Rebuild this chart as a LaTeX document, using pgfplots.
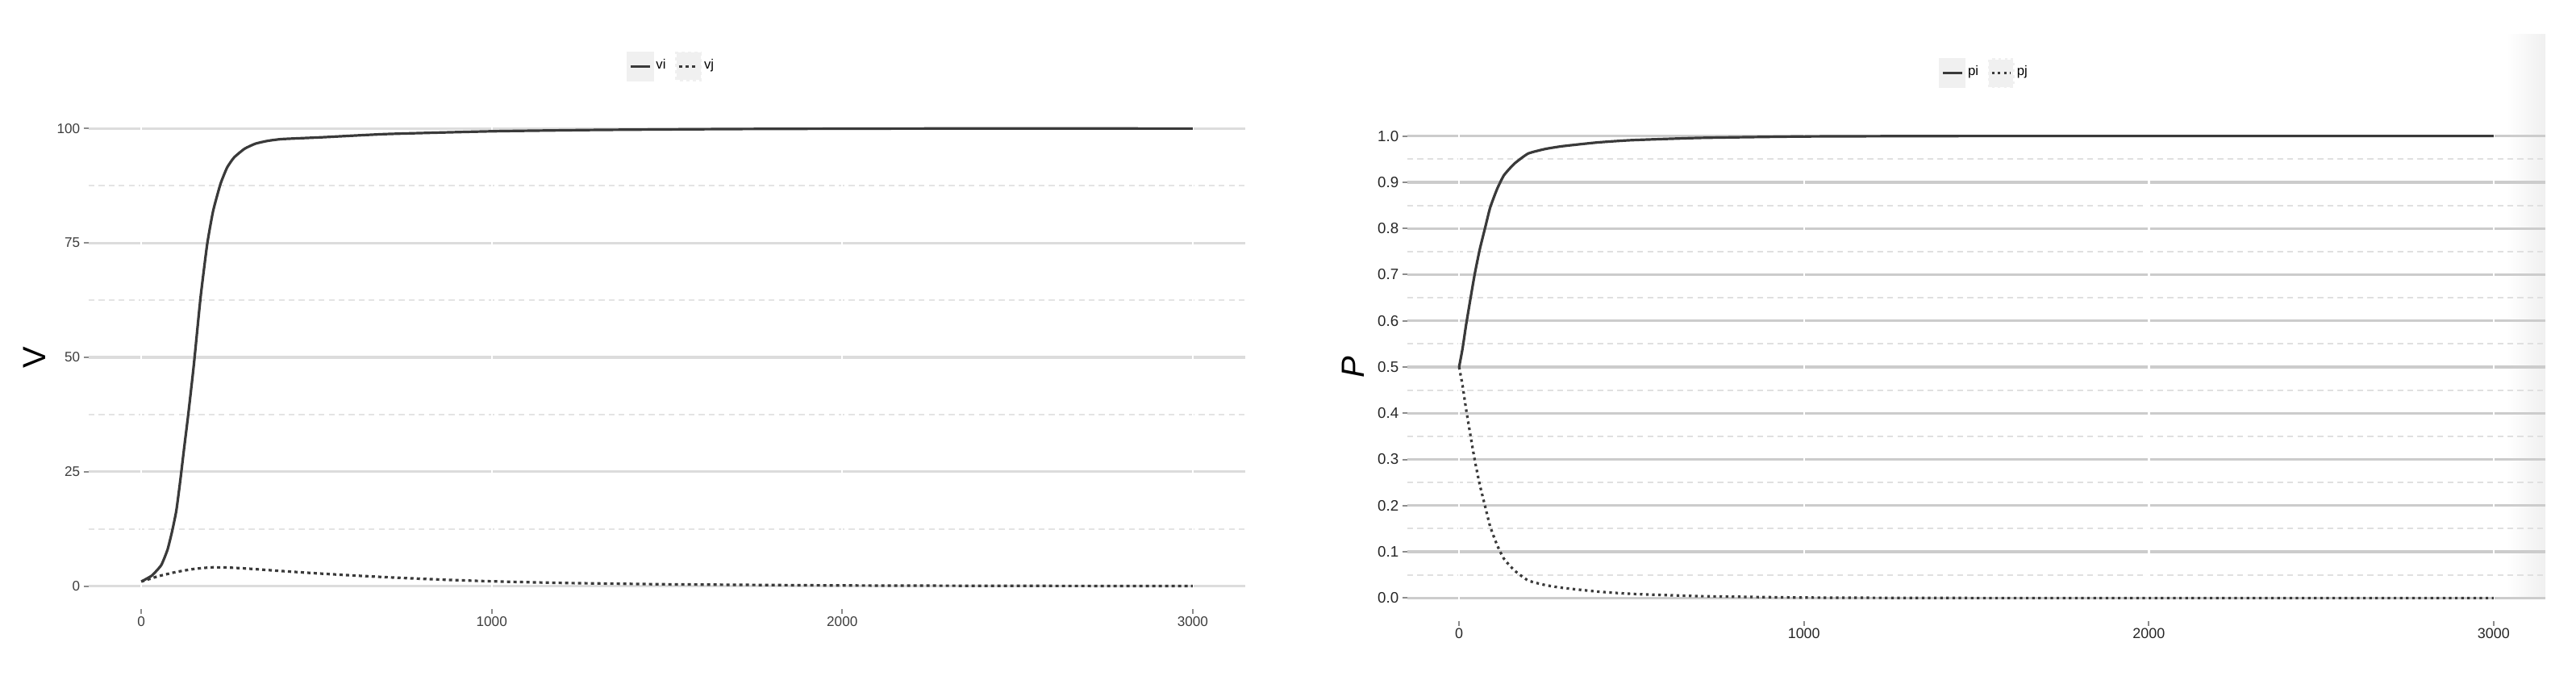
\documentclass[border=0pt]{standalone}
\usepackage{pgfplots}
\pgfplotsset{compat=1.18}
\usepackage{pgfplotstable}
\usepackage{fontspec}
\setmainfont{Liberation Sans}
\definecolor{gridmaj}{HTML}{DCDCDC}
\definecolor{gridmin}{HTML}{E4E4E4}
\definecolor{curve}{HTML}{3A3A3A}
\definecolor{ticklab}{HTML}{3C3C3C}

\pgfplotstableread{
x y
0 1
30 2.3
57 4.6
75 8
88 12
100 16.5
111 22.9
122 30
134 37.5
150 48.4
169 63
188 74.7
205 82
226 87.9
245 91.5
265 93.7
295 95.6
326 96.7
360 97.3
402 97.7
518 98.1
700 98.8
1000 99.4
1300 99.7
1700 99.9
2200 100
3000 100
}\tvi
\pgfplotstableread{
x y
0 1
25 1.6
50 2.2
100 3.1
150 3.75
200 4.1
250 4.05
300 3.85
400 3.3
500 2.8
600 2.35
700 1.95
800 1.6
900 1.3
1000 1.05
1200 0.7
1500 0.4
2000 0.15
2500 0.06
3000 0.02
}\tvj
\pgfplotstableread{
x y
0 0.5
10 0.54
20 0.59
30 0.635
45 0.70
60 0.755
75 0.80
90 0.845
110 0.885
130 0.915
160 0.94
200 0.962
250 0.972
300 0.978
400 0.986
500 0.991
700 0.996
1000 0.999
1500 1.0
3000 1.0
}\tpi
\pgfplotstableread{
x y
0 0.5
10 0.46
20 0.41
30 0.365
45 0.30
60 0.245
75 0.20
90 0.155
110 0.115
130 0.085
160 0.06
200 0.038
250 0.028
300 0.022
400 0.014
500 0.009
700 0.004
1000 0.001
1500 0.0
3000 0.0
}\tpj

\pgfplotsset{
  gg/.style={
    scale only axis,
    axis line style={draw=none},
    tick pos=left,
    tick align=outside,
    major tick length=1.5bp,
    minor tick length=0pt,
    tick style={color=black!45, line width=0.5bp},
    ymajorgrids, yminorgrids,
    major grid style={color=gridmaj, line width=0.8bp},
    minor grid style={color=gridmin, line width=0.5bp, dash pattern=on 1.8bp off 1.3bp},
    xmin=-150, xmax=3150,
    xtick={0,1000,2000,3000},
    /pgf/number format/assume math mode=true,
    /pgf/number format/set thousands separator={},
    xticklabel style={font=\fontsize{4.3}{5}\selectfont, color=ticklab, inner sep=0.6bp},
    yticklabel style={font=\fontsize{4.3}{5}\selectfont, color=ticklab, inner sep=1bp},
    every axis y label/.style={at={(rel axis cs:0,0.5)}, xshift=-16.75bp, rotate=90, anchor=center, font=\fontsize{10}{12}\selectfont},
    legend columns=2,
    legend cell align=left,
    legend image code/.code={
      \fill[black!6] (0bp,-4.25bp) rectangle (7.5bp,4.25bp);
      \draw[#1] (0.8bp,0bp) -- (6.7bp,0bp);
    },
    legend style={draw=none, fill=none, anchor=center,
      font=\fontsize{4.2}{5}\selectfont,
      nodes={inner sep=0.7bp},
      /tikz/every even column/.append style={column sep=2.2bp}},
  },
  solidc/.style={color=curve, line width=0.8bp, smooth, tension=0.3},
  dashc/.style={color=curve, line width=0.8bp, dash pattern=on 1bp off 1bp, smooth, tension=0.3},
  dotc/.style={color=curve, line width=0.8bp, dash pattern=on 0.8bp off 1.1bp, smooth, tension=0.3},
}

\begin{document}
\begin{tikzpicture}
\useasboundingbox (0,0) rectangle (798.5bp,210.75bp);
\shade[left color=white, right color=black!6] (777bp,25bp) rectangle (789bp,200bp);

\begin{axis}[gg,
  at={(27.5bp,22bp)}, anchor=south west,
  width=358.5bp, height=156bp,
  ymin=-5, ymax=105,
  ytick={0,25,50,75,100},
  minor ytick={12.5,37.5,62.5,87.5},
  ylabel={V},
  legend style={at={(0.504,1.078)}},
]
\pgfplotsinvokeforeach{0,1000,2000,3000}{
  \draw[white, line width=0.6bp] (axis cs:#1,-5) -- (axis cs:#1,105);
}
\addplot[solidc] table {\tvi};
\addlegendentry{vi}
\addplot[dashc] table {\tvj};
\addlegendentry{vj}
\end{axis}

\begin{axis}[gg,
  at={(436.25bp,18.25bp)}, anchor=south west,
  width=352.75bp, height=157.5bp,
  ymin=-0.05, ymax=1.05,
  ytick={0,0.1,0.2,0.3,0.4,0.5,0.6,0.7,0.8,0.9,1.0},
  minor ytick={0.05,0.15,0.25,0.35,0.45,0.55,0.65,0.75,0.85,0.95},
  yticklabel style={/pgf/number format/fixed, /pgf/number format/fixed zerofill, /pgf/number format/precision=1},
  yticklabel style={font=\fontsize{4.7}{5}\selectfont, color=black!85},
  xticklabel style={font=\fontsize{4.5}{5}\selectfont, color=black!85},
  major grid style={color=black!20, line width=0.8bp},
  minor grid style={color=black!12, line width=0.5bp, dash pattern=on 1.8bp off 1.3bp},
  ylabel={\itshape P},
  legend style={at={(0.507,1.078)}},
]
\pgfplotsinvokeforeach{0,1000,2000,3000}{
  \draw[white, line width=0.6bp] (axis cs:#1,-0.05) -- (axis cs:#1,1.05);
}
\addplot[solidc] table {\tpi};
\addlegendentry{pi}
\addplot[dotc] table {\tpj};
\addlegendentry{pj}
\end{axis}
\end{tikzpicture}
\end{document}
